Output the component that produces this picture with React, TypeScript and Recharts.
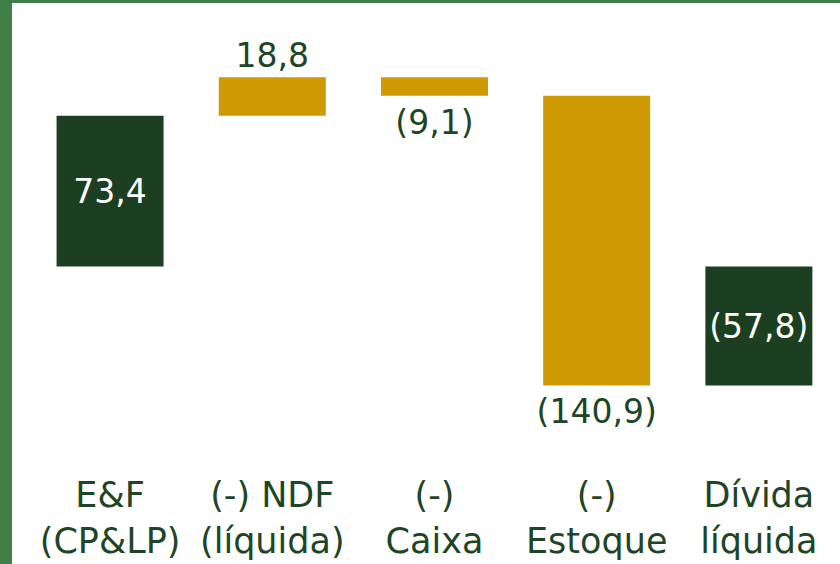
import { BarChart, Bar, XAxis, YAxis, Cell, LabelList } from 'recharts';

const categories = ['E&F\n(CP&LP)', '(-) NDF\n(líquida)', '(-)\nCaixa', '(-)\nEstoque', 'Dívida\nlíquida'];
const values = [73.4, 18.8, -9.1, -140.9, -57.8];
const isTotal = [true, false, false, false, true];

const DARK = '#1B3F20';
const GOLD = '#D09A05';
const TEXT = '#1D4526';
const FRAME = '#417F48';
const FONT = '"DejaVu Sans", sans-serif';

// waterfall ranges: totals start at 0, deltas start at running total
let running = 0;
const chartData = categories.map((name, i) => {
  let range: [number, number];
  if (isTotal[i]) {
    range = [0, values[i]];
    running = values[i];
  } else {
    range = [running, running + values[i]];
    running += values[i];
  }
  return { name, value: values[i], range, total: isTotal[i] };
});

const fmt = (v: number) => {
  const s = Math.abs(v).toFixed(1).replace('.', ',');
  return v < 0 ? `(${s})` : s;
};

const ValueLabel = (props: any) => {
  const { x, y, width, height, index } = props;
  const d = chartData[index];
  const top = Math.min(y, y + height);
  const bottom = Math.max(y, y + height);
  const cx = x + width / 2;
  let ty: number;
  let fill = TEXT;
  if (d.total) {
    ty = (top + bottom) / 2 + 12;
    fill = '#FFFFFF';
  } else if (d.value >= 0) {
    ty = top - 10;
  } else {
    ty = bottom + 38;
  }
  return (
    <text x={cx} y={ty} textAnchor="middle" fill={fill} fontSize={33} fontFamily={FONT}>
      {fmt(d.value)}
    </text>
  );
};

const CategoryTick = (props: any) => {
  const { x, y, payload } = props;
  const lines = String(payload.value).split('\n');
  return (
    <g transform={`translate(${x},${y})`}>
      {lines.map((l, i) => (
        <text key={i} x={0} y={68 + i * 46} textAnchor="middle" fill={TEXT} fontSize={35} fontFamily={FONT}>
          {l}
        </text>
      ))}
    </g>
  );
};

export default function App() {
  return (
    <div style={{ position: 'absolute', left: 0, top: 0, width: 840, height: 564, background: '#fff', overflow: 'hidden' }}>
      <div style={{ position: 'absolute', left: 0, top: 0, width: 12, height: 564, background: FRAME }} />
      <div style={{ position: 'absolute', left: 0, top: 0, width: 840, height: 3, background: FRAME }} />
      <BarChart
        width={840}
        height={564}
        data={chartData}
        margin={{ top: 20, right: 0, bottom: 10, left: 29 }}
        barCategoryGap="17%"
      >
        <XAxis
          dataKey="name"
          axisLine={false}
          tickLine={false}
          height={123}
          interval={0}
          tick={<CategoryTick />}
        />
        <YAxis hide domain={[-80, 120]} />
        <Bar dataKey="range" isAnimationActive={false}>
          {chartData.map((d, i) => (
            <Cell key={i} fill={d.total ? DARK : GOLD} />
          ))}
          <LabelList dataKey="value" content={<ValueLabel />} />
        </Bar>
      </BarChart>
    </div>
  );
}
